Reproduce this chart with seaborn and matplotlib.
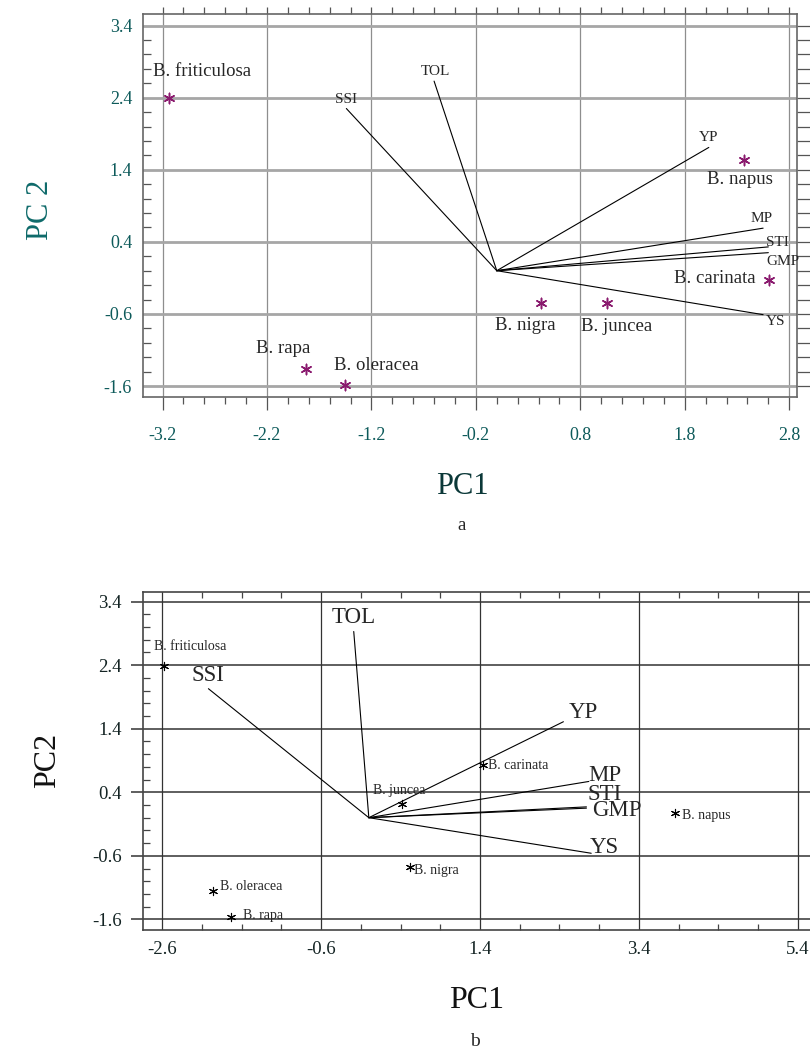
import numpy as np
import pandas as pd
import matplotlib
matplotlib.use("Agg")
import matplotlib.pyplot as plt
from matplotlib.ticker import MultipleLocator, FixedLocator
import seaborn as sns

# ---------------- data ----------------
species = ["B. friticulosa", "B. napus", "B. carinata", "B. juncea",
           "B. nigra", "B. rapa", "B. oleracea"]
variables = ["SSI", "TOL", "YP", "MP", "STI", "GMP", "YS"]

# panel a: genotype scores and index loadings
a_pc1 = [-3.14, 2.37, 2.61, 1.06, 0.42, -1.83, -1.45]
a_pc2 = [2.39, 1.54, -0.13, -0.45, -0.45, -1.36, -1.58]
a_load1 = [-1.44, -0.60, 2.03, 2.55, 2.60, 2.60, 2.55]
a_load2 = [2.25, 2.63, 1.71, 0.59, 0.33, 0.25, -0.61]

# panel b: genotype scores and index loadings
b_pc1 = [-2.58, 3.86, 1.44, 0.42, 0.52, -1.73, -1.96]
b_pc2 = [2.39, 0.07, 0.83, 0.21, -0.77, -1.57, -1.15]
b_load1 = [-2.02, -0.19, 2.45, 2.77, 2.74, 2.74, 2.80]
b_load2 = [2.03, 2.93, 1.51, 0.57, 0.17, 0.15, -0.56]

a_xticks = [-3.2, -2.2, -1.2, -0.2, 0.8, 1.8, 2.8]
a_yticks = [-1.6, -0.6, 0.4, 1.4, 2.4, 3.4]
b_xticks = [-2.6, -0.6, 1.4, 3.4, 5.4]
b_yticks = [-1.6, -0.6, 0.4, 1.4, 2.4, 3.4]

# ---------------- label placement (offsets in data units) ----------------
a_sp_off = {"B. friticulosa": (-0.15, 0.38, "left"), "B. napus": (-0.04, -0.27, "center"),
            "B. carinata": (-0.52, 0.025, "center"), "B. juncea": (0.09, -0.325, "center"),
            "B. nigra": (-0.15, -0.317, "center"), "B. rapa": (-0.21, 0.285, "center"),
            "B. oleracea": (0.30, 0.26, "center")}
a_var_off = {"SSI": (0.0, 0.12), "TOL": (0.01, 0.14), "YP": (0.0, 0.14), "MP": (-0.01, 0.14),
             "STI": (0.09, 0.065), "GMP": (0.14, -0.125), "YS": (0.12, -0.10)}
b_sp_off = {"B. friticulosa": (-0.125, 0.30, "left"), "B. napus": (0.08, -0.03, "left"),
            "B. carinata": (0.065, -0.013, "left"), "B. juncea": (-0.04, 0.224, "center"),
            "B. nigra": (0.047, -0.055, "left"), "B. rapa": (0.15, 0.036, "left"),
            "B. oleracea": (0.084, 0.062, "left")}
b_var_off = {"SSI": (0.0, 0.20), "TOL": (0.0, 0.225), "YP": (0.246, 0.148), "MP": (0.20, 0.10),
             "STI": (0.23, 0.20), "GMP": (0.38, -0.035), "YS": (0.17, 0.086)}

sns.set_style("ticks")
plt.rcParams["font.family"] = ["Liberation Serif", "DejaVu Serif"]

fig = plt.figure(figsize=(8.1, 10.59), dpi=100)
fig.patch.set_facecolor("white")

star = (6, 2, 0)

# ================= panel a =================
ax = fig.add_axes([0.1769, 0.6248, 0.8070, 0.3619])
ax.set_xlim(-3.384, 2.874)
ax.set_ylim(-1.757, 3.56)
ax.xaxis.set_major_locator(FixedLocator(a_xticks))
ax.yaxis.set_major_locator(FixedLocator(a_yticks))
ax.set_xticklabels([f"{v:.1f}" for v in a_xticks])
ax.set_yticklabels([f"{v:.1f}" for v in a_yticks])
ax.xaxis.set_minor_locator(MultipleLocator(0.2))
ax.yaxis.set_minor_locator(MultipleLocator(0.2))
ax.xaxis.grid(True, which="major", color="#8e8e8e", lw=0.9)
ax.yaxis.grid(True, which="major", color="#a6a6a6", lw=2.0)
ax.set_axisbelow(True)
tcol = "#0d5a5a"
ax.tick_params(axis="x", which="major", direction="out", length=9, width=0.9,
               color="#555555", labelsize=13, labelcolor=tcol, pad=12, top=False)
ax.tick_params(axis="x", which="minor", direction="out", length=5, width=0.9, color="#555555")
ax.tick_params(axis="y", which="major", direction="in", length=0, labelsize=13,
               labelcolor=tcol, pad=8)
ax.tick_params(axis="y", which="minor", direction="in", length=6, width=0.9, color="#555555")
for s in ax.spines.values():
    s.set_color("#666666")
    s.set_linewidth(1.2)

sec_top = ax.secondary_xaxis("top")
sec_top.xaxis.set_major_locator(FixedLocator(a_xticks))
sec_top.xaxis.set_minor_locator(MultipleLocator(0.2))
sec_top.tick_params(which="both", direction="out", length=5, width=0.9, color="#555555",
                    labeltop=False)
sec_top.spines["top"].set_visible(False)
sec_right = ax.secondary_yaxis("right")
sec_right.yaxis.set_major_locator(FixedLocator(a_yticks))
sec_right.yaxis.set_minor_locator(MultipleLocator(0.2))
sec_right.tick_params(which="both", direction="out", length=10, width=0.9, color="#555555",
                      labelright=False)
sec_right.spines["right"].set_visible(False)

for name, x, y in zip(variables, a_load1, a_load2):
    ax.plot([0, x], [0, y], color="black", lw=0.8, zorder=3)
    dx, dy = a_var_off[name]
    ax.text(x + dx, y + dy, name, ha="center", va="center", fontsize=11, zorder=5)

df_a = pd.DataFrame({"PC1": a_pc1, "PC2": a_pc2, "species": species})
sns.scatterplot(data=df_a, x="PC1", y="PC2", ax=ax, marker=star, s=55,
                color="#8a1a6e", edgecolor="#8a1a6e", linewidth=1.1, zorder=4, legend=False)
for name, x, y in zip(species, a_pc1, a_pc2):
    dx, dy, ha = a_sp_off[name]
    ax.text(x + dx, y + dy, name, ha=ha, va="center", fontsize=13.5, zorder=5)

ax.set_xlabel("PC1", fontsize=22, color="#0b3838")
ax.set_ylabel("PC 2", fontsize=22, color="#0e6a6a")
ax.xaxis.set_label_coords(0.488, -0.195)
ax.yaxis.set_label_coords(-0.135, 0.49)
fig.text(462 / 810, 1 - 525 / 1059, "a", ha="center", va="center", fontsize=13.5)

# ================= panel b =================
bx = fig.add_axes([0.1762, 0.1218, 0.8238, 0.3195])
bx.set_xlim(-2.847, 5.555)
bx.set_ylim(-1.768, 3.557)
bx.xaxis.set_major_locator(FixedLocator(b_xticks))
bx.yaxis.set_major_locator(FixedLocator(b_yticks))
bx.set_xticklabels([f"{v:.1f}" for v in b_xticks])
bx.set_yticklabels([f"{v:.1f}" for v in b_yticks])
bx.xaxis.set_minor_locator(MultipleLocator(0.5, offset=0.4))
bx.yaxis.set_minor_locator(MultipleLocator(0.2))
bx.xaxis.grid(True, which="major", color="#333333", lw=0.9)
bx.yaxis.grid(True, which="major", color="#333333", lw=1.1)
bx.set_axisbelow(True)
tcol_b = "#142424"
bx.tick_params(axis="x", which="major", direction="in", length=0, labelsize=13.5,
               labelcolor=tcol_b, pad=8, top=False)
bx.tick_params(axis="x", which="minor", direction="in", length=4, width=0.9,
               color="#444444", top=True)
bx.tick_params(axis="y", which="major", direction="out", length=9, width=1.1,
               color="#333333", labelsize=13.5, labelcolor=tcol_b, pad=6)
bx.tick_params(axis="y", which="minor", direction="in", length=5, width=0.9, color="#444444")
for s in bx.spines.values():
    s.set_color("#444444")
    s.set_linewidth(1.2)
bx.spines["right"].set_visible(False)

for name, x, y in zip(variables, b_load1, b_load2):
    bx.plot([0, x], [0, y], color="black", lw=0.8, zorder=3)
    dx, dy = b_var_off[name]
    bx.text(x + dx, y + dy, name, ha="center", va="center", fontsize=16.5, zorder=5)

df_b = pd.DataFrame({"PC1": b_pc1, "PC2": b_pc2, "species": species})
sns.scatterplot(data=df_b, x="PC1", y="PC2", ax=bx, marker=star, s=35,
                color="black", edgecolor="black", linewidth=0.8, zorder=4, legend=False)
for name, x, y in zip(species, b_pc1, b_pc2):
    dx, dy, ha = b_sp_off[name]
    bx.text(x + dx, y + dy, name, ha=ha, va="center", fontsize=10, zorder=5)

bx.set_xlabel("PC1", fontsize=23, color="#111111")
bx.set_ylabel("PC2", fontsize=23, color="#111111")
bx.xaxis.set_label_coords(0.501, -0.165)
bx.yaxis.set_label_coords(-0.121, 0.5)
fig.text(475 / 810, 1 - 1042 / 1059, "b", ha="center", va="center", fontsize=14)

fig.savefig("out.png", dpi=100, facecolor="white")
